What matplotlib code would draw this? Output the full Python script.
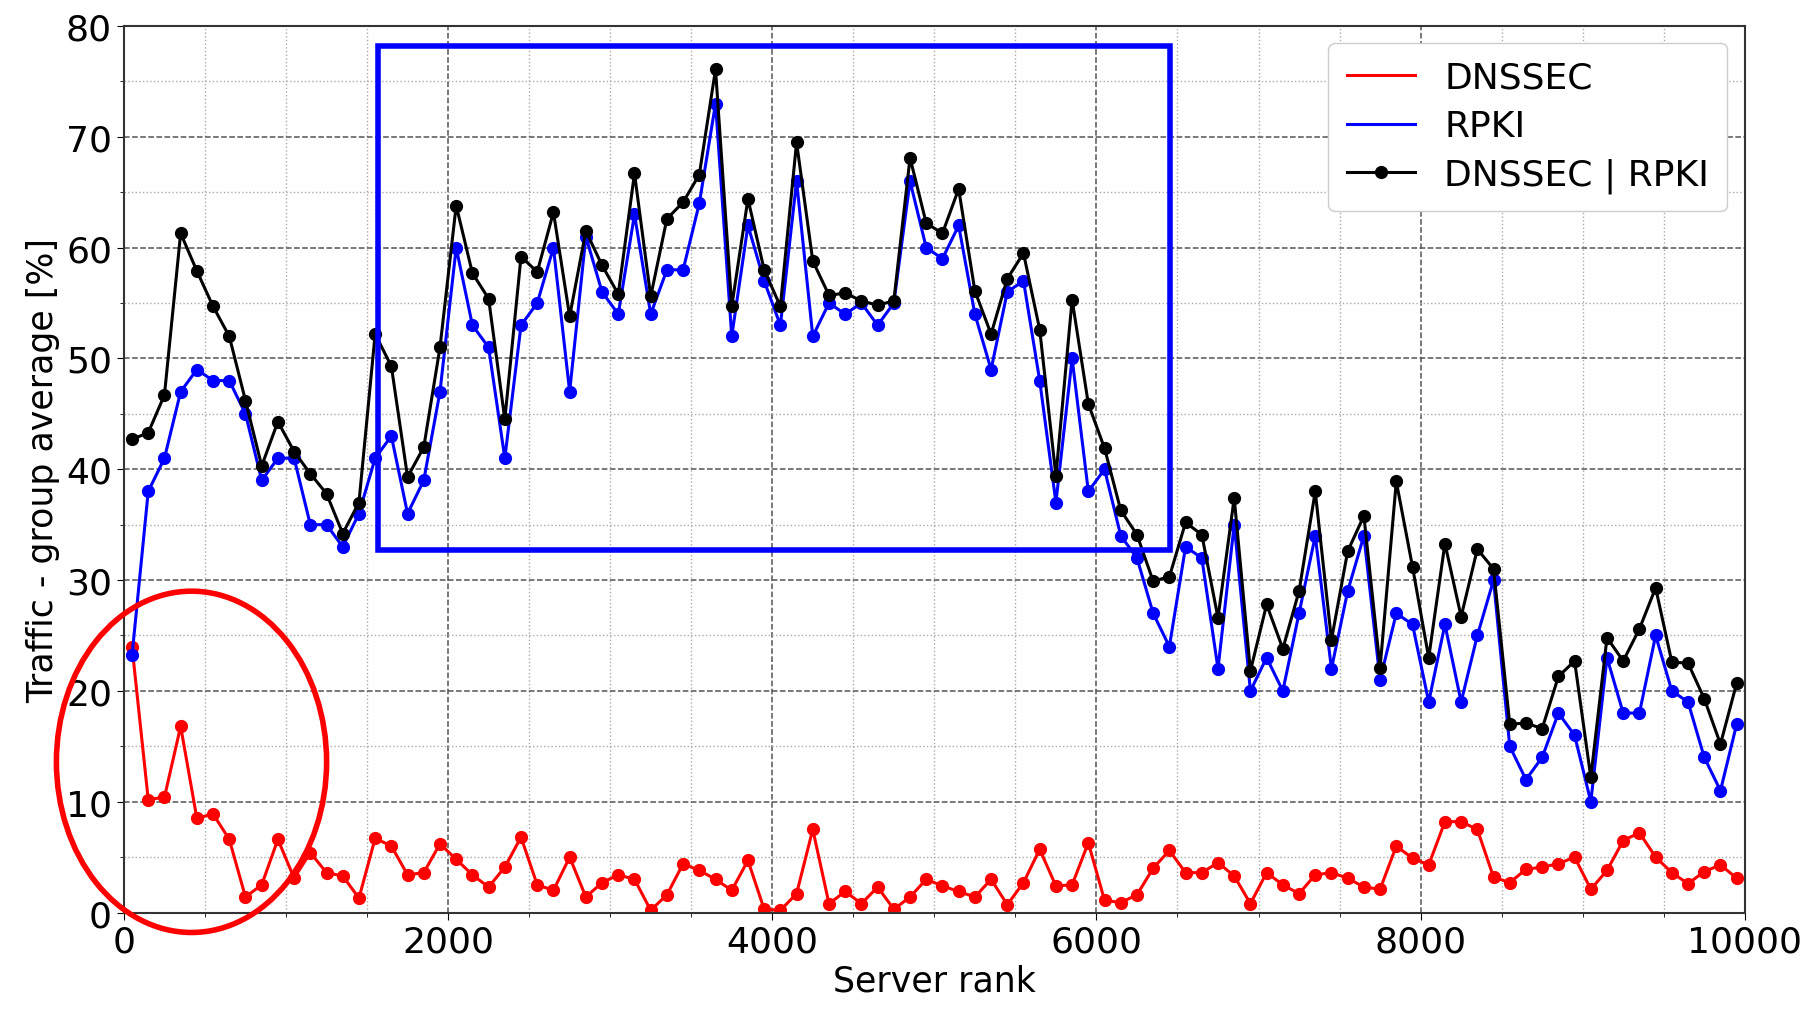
import matplotlib
matplotlib.use("Agg")
import matplotlib.pyplot as plt
from matplotlib.patches import Ellipse, Rectangle
from matplotlib.ticker import MultipleLocator
import numpy as np

ranks = list(range(50, 10000, 100))

dnssec = [24.0, 10.2, 10.4, 16.8, 8.5, 8.9, 6.6, 1.4, 2.5, 6.6,
          3.1, 5.4, 3.6, 3.3, 1.3, 6.7, 6.0, 3.4, 3.6, 6.2,
          4.8, 3.4, 2.3, 4.1, 6.8, 2.5, 2.0, 5.0, 1.4, 2.7,
          3.4, 3.0, 0.2, 1.6, 4.4, 3.8, 3.0, 2.0, 4.7, 0.3,
          0.2, 1.7, 7.5, 0.8, 1.9, 0.8, 2.3, 0.3, 1.4, 3.0,
          2.4, 1.9, 1.4, 3.0, 0.7, 2.7, 5.7, 2.4, 2.5, 6.3,
          1.1, 0.9, 1.6, 4.0, 5.6, 3.6, 3.6, 4.5, 3.3, 0.8,
          3.6, 2.5, 1.7, 3.4, 3.6, 3.1, 2.3, 2.1, 6.0, 4.9,
          4.3, 8.2, 8.2, 7.5, 3.2, 2.7, 3.9, 4.1, 4.4, 5.0,
          2.1, 3.8, 6.5, 7.2, 5.0, 3.6, 2.6, 3.7, 4.3, 3.1]

rpki = [23.2, 38.0, 41.0, 47.0, 49.0, 48.0, 48.0, 45.0, 39.0, 41.0,
        41.0, 35.0, 35.0, 33.0, 36.0, 41.0, 43.0, 36.0, 39.0, 47.0,
        60.0, 53.0, 51.0, 41.0, 53.0, 55.0, 60.0, 47.0, 61.0, 56.0,
        54.0, 63.0, 54.0, 58.0, 58.0, 64.0, 73.0, 52.0, 62.0, 57.0,
        53.0, 66.0, 52.0, 55.0, 54.0, 55.0, 53.0, 55.0, 66.0, 60.0,
        59.0, 62.0, 54.0, 49.0, 56.0, 57.0, 48.0, 37.0, 50.0, 38.0,
        40.0, 34.0, 32.0, 27.0, 24.0, 33.0, 32.0, 22.0, 35.0, 20.0,
        23.0, 20.0, 27.0, 34.0, 22.0, 29.0, 34.0, 21.0, 27.0, 26.0,
        19.0, 26.0, 19.0, 25.0, 30.0, 15.0, 12.0, 14.0, 18.0, 16.0,
        10.0, 23.0, 18.0, 18.0, 25.0, 20.0, 19.0, 14.0, 11.0, 17.0]

either = [42.7, 43.3, 46.7, 61.3, 57.9, 54.7, 52.0, 46.2, 40.3, 44.3,
          41.6, 39.6, 37.8, 34.2, 37.0, 52.2, 49.3, 39.3, 42.0, 51.0,
          63.8, 57.7, 55.4, 44.5, 59.2, 57.8, 63.2, 53.8, 61.5, 58.4,
          55.8, 66.7, 55.6, 62.6, 64.1, 66.6, 76.1, 54.7, 64.4, 58.0,
          54.7, 69.5, 58.8, 55.7, 55.9, 55.2, 54.8, 55.2, 68.1, 62.2,
          61.3, 65.3, 56.1, 52.2, 57.2, 59.5, 52.6, 39.4, 55.3, 45.9,
          41.9, 36.3, 34.1, 29.9, 30.3, 35.2, 34.1, 26.6, 37.4, 21.8,
          27.8, 23.8, 29.0, 38.0, 24.6, 32.6, 35.8, 22.1, 38.9, 31.2,
          23.0, 33.3, 26.7, 32.8, 31.0, 17.0, 17.1, 16.6, 21.3, 22.7,
          12.2, 24.8, 22.7, 25.6, 29.3, 22.6, 22.5, 19.3, 15.2, 20.7]

plt.rcParams['font.family'] = ['DejaVu Sans']

fig = plt.figure(figsize=(18.09, 10.12), dpi=100)
ax = fig.add_axes([0.0685, 0.0973, 0.896, 0.876])

ax.plot(ranks, dnssec, color='red', lw=2.2, label='DNSSEC')
ax.plot(ranks, dnssec, color='red', lw=0, marker='o', ms=8.5)
ax.plot(ranks, rpki, color='blue', lw=2.2, label='RPKI')
ax.plot(ranks, rpki, color='blue', lw=0, marker='o', ms=8.5)
ax.plot(ranks, either, color='black', lw=2.2, marker='o', ms=8.5,
        label='DNSSEC | RPKI')

ax.set_xlim(0, 10000)
ax.set_ylim(0, 80)
ax.xaxis.set_major_locator(MultipleLocator(2000))
ax.xaxis.set_minor_locator(MultipleLocator(500))
ax.yaxis.set_major_locator(MultipleLocator(10))
ax.yaxis.set_minor_locator(MultipleLocator(5))
ax.grid(which='major', linestyle='--', color='#555555', lw=1.1)
ax.grid(which='minor', linestyle=':', color='#aaaaaa', lw=1.0)
ax.set_axisbelow(True)
ax.tick_params(axis='both', which='major', labelsize=26, length=5)
ax.tick_params(axis='both', which='minor', length=3)
for s in ax.spines.values():
    s.set_color('#333333')
    s.set_linewidth(1.5)

ax.set_xlabel('Server rank', fontsize=25, labelpad=4)
ax.set_ylabel('Traffic - group average [%]', fontsize=25, labelpad=4)

rect = Rectangle((1567, 32.7), 6453 - 1567, 78.2 - 32.7, fill=False,
                 edgecolor='blue', lw=4, zorder=5)
ax.add_patch(rect)
ell = Ellipse((417, 13.6), 1667, 30.8, fill=False, edgecolor='red', lw=4,
              zorder=5, clip_on=False)
ax.add_patch(ell)

leg = ax.legend(loc='upper right', fontsize=26, handlelength=1.9,
                borderpad=0.5, labelspacing=0.4, handletextpad=0.8,
                borderaxespad=0, bbox_to_anchor=(0.989, 0.981),
                framealpha=1.0)

fig.savefig('out.png', dpi=100)
